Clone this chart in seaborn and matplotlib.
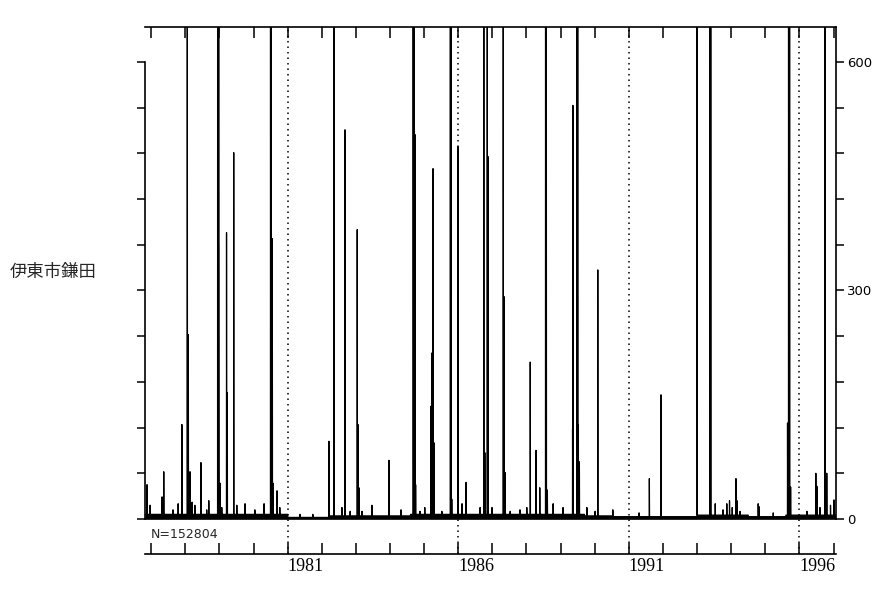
import numpy as np
import pandas as pd
import seaborn as sns
import matplotlib
matplotlib.use("Agg")
import matplotlib.pyplot as plt

# daily background level: start year of each period and typical count
bg_start = [1976.82, 1981.0, 1982.2, 1984.6, 1989.7, 1990.5, 1993.0, 1994.5, 1995.6]
bg_level = [6, 2, 4, 6, 4, 3, 5, 3, 5]

# swarm days that run off the top of the chart
off_years = [1978.06, 1978.95, 1978.98, 1980.50, 1980.52, 1982.36, 1984.68, 1984.71,
             1985.77, 1985.79, 1986.75, 1986.85, 1987.32, 1988.56, 1988.58, 1989.48,
             1989.50, 1993.00, 1993.38, 1993.40, 1995.68, 1995.71, 1996.75]
off_count = 1000

# peaks that can be read on the scale
peak_years = [1976.88, 1977.32, 1977.37, 1977.90, 1978.09, 1978.14, 1978.46, 1978.69,
              1978.97, 1979.02, 1979.21, 1979.23, 1979.42, 1980.55, 1980.57, 1980.69,
              1982.21, 1982.68, 1983.04, 1983.06, 1983.09, 1983.47, 1983.97, 1984.73,
              1984.75, 1985.20, 1985.23, 1985.26, 1985.29, 1985.81, 1985.99, 1986.23,
              1986.78, 1986.87, 1987.34, 1987.37, 1988.11, 1988.28, 1988.39, 1988.61,
              1989.35, 1989.36, 1989.52, 1989.55, 1990.09, 1991.60, 1991.94, 1993.53,
              1993.87, 1993.95, 1994.14, 1994.17, 1994.82, 1995.65, 1995.74, 1996.48,
              1996.51, 1996.80, 1996.91, 1997.01]
peak_counts = [45, 29, 62, 124, 242, 62, 74, 24,
               360, 47, 376, 166, 481, 368, 47, 37,
               102, 511, 380, 124, 41, 18, 77, 505,
               45, 148, 218, 460, 100, 26, 489, 48,
               87, 476, 292, 61, 206, 90, 41, 38,
               118, 543, 124, 75, 327, 53, 163, 20,
               20, 24, 53, 24, 16, 126, 42, 60,
               43, 60, 18, 25]

# small bumps along the baseline
bump_years = [1976.97, 1977.64, 1977.79, 1978.20, 1978.28, 1978.63, 1979.07, 1979.51,
              1979.75, 1980.04, 1980.31, 1980.77, 1981.36, 1981.74, 1982.59, 1982.83,
              1983.18, 1984.32, 1984.88, 1985.02, 1985.52, 1986.11, 1986.64, 1986.99,
              1987.52, 1987.81, 1988.01, 1988.78, 1989.07, 1989.77, 1990.01, 1990.53,
              1991.30, 1993.76, 1994.03, 1994.26, 1994.79, 1995.23, 1996.22, 1996.60]
bump_counts = [18, 12, 20, 22, 18, 12, 15, 18,
               20, 12, 20, 15, 6, 6, 15, 10,
               10, 12, 10, 15, 10, 20, 15, 15,
               10, 12, 15, 20, 15, 15, 10, 12,
               8, 12, 15, 10, 20, 8, 10, 15]

year_ticks = list(range(1977, 1998))
year_labels = ["1981", "1986", "1991", "1996"]
total_n = 152804

# build the daily series
days = np.arange(1976.83, 1997.07, 1 / 365.25)
counts = np.zeros(len(days))
for i, start in enumerate(bg_start):
    counts[days >= start] = bg_level[i]
for yrs, vals in [(bump_years, bump_counts), (peak_years, peak_counts),
                  (off_years, [off_count] * len(off_years))]:
    for yr, v in zip(yrs, vals):
        k = np.argmin(np.abs(days - yr))
        counts[k] = max(counts[k], v)
df = pd.DataFrame({"year": days, "count": counts})

sns.set_style("white")
plt.rcParams["font.family"] = ["DejaVu Sans"]

fig = plt.figure(figsize=(8.94, 6), dpi=100)
ax = fig.add_axes([0.1622, 0.0767, 0.7729, 0.8783])

ax.fill_between(df["year"], df["count"], color="black", linewidth=0)
sns.lineplot(data=df, x="year", y="count", color="black", linewidth=0.9,
             estimator=None, ax=ax)

ax.set_xlim(1976.82, 1997.07)
ax.set_ylim(-46, 646)

# zero line and dotted five-year markers
ax.axhline(0, color="black", linewidth=1.2)
ax.vlines([int(y) for y in year_labels], -46, 646, colors="black",
          linestyles=(0, (1, 2.6)), linewidth=1.1)

# spines
for s in ax.spines.values():
    s.set_color("black")
    s.set_linewidth(1.2)
ax.spines["left"].set_bounds(0, 600)
ax.spines["right"].set_bounds(0, 646)

# x axis: year ticks top and bottom, labels only every five years
ax.set_xticks(year_ticks)
ax.set_xticklabels([str(y) if str(y) in year_labels else "" for y in year_ticks],
                   ha="left", fontsize=13, family="Liberation Serif")
ax.tick_params(axis="x", direction="in", length=8, width=1.1, top=True,
               bottom=True, pad=3, colors="black")

# y axis: ticks every 60 both sides, labels on the right
ax.set_yticks([0, 300, 600])
ax.set_yticks(list(range(0, 601, 60)), minor=True)
ax.tick_params(axis="y", which="both", direction="out", length=6, width=1.1,
               left=True, right=True, labelleft=False, labelright=True,
               labelsize=9.5, pad=2, colors="black")
ax.set_xlabel("")
ax.set_ylabel("")

ax.text(1976.98, -21, f"N={total_n}", fontsize=9, ha="left", va="center")
fig.text(10 / 894, 1 - 272 / 600, "伊東市鎌田", fontsize=12.5, va="center",
         family=["Noto Sans CJK JP", "DejaVu Sans"])

fig.savefig("out.png", dpi=100)
